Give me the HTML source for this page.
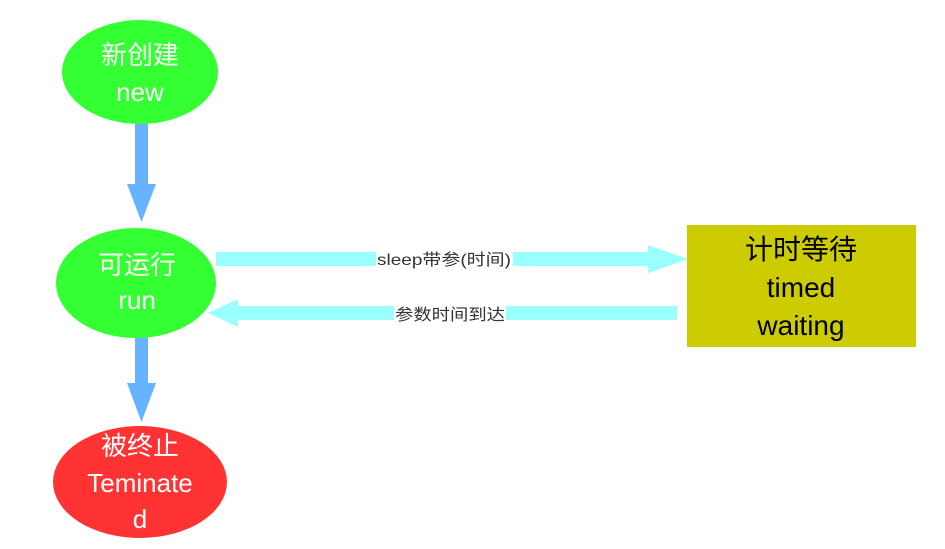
<!DOCTYPE html>
<html><head><meta charset="utf-8"><style>
html,body{margin:0;padding:0;background:#fff;}
svg{display:block}
text{font-family:"Liberation Sans","Noto Sans CJK SC",sans-serif;}
</style></head><body>
<svg width="945" height="549" viewBox="0 0 945 549" xmlns="http://www.w3.org/2000/svg">
<rect x="135" y="118" width="13" height="67" fill="#66b3ff"/>
<polygon points="127,184 156,184 141.5,222" fill="#66b3ff"/>
<rect x="135" y="330" width="13" height="54" fill="#66b3ff"/>
<polygon points="127,383 156,383 141.5,422" fill="#66b3ff"/>
<rect x="216" y="252" width="434" height="14" fill="#99ffff"/>
<polygon points="648,245 648,273 688,259" fill="#99ffff"/>
<rect x="236" y="306" width="441" height="14" fill="#99ffff"/>
<polygon points="238,299 238,327 208,313" fill="#99ffff"/>
<rect x="376" y="251" width="137" height="16" fill="#fff"/>
<text x="377" y="265" font-size="16" fill="#333" textLength="134" lengthAdjust="spacingAndGlyphs">sleep带参(时间)</text>
<rect x="394" y="305" width="112" height="16" fill="#fff"/>
<text x="395" y="320" font-size="16" fill="#333" textLength="110" lengthAdjust="spacingAndGlyphs">参数时间到达</text>
<ellipse cx="140" cy="72" rx="78" ry="52" fill="#33ff33"/>
<text x="140" y="64" font-size="26" fill="#fff" text-anchor="middle">新创建</text>
<text x="140" y="101" font-size="26" fill="#fff" text-anchor="middle">new</text>
<ellipse cx="136" cy="283" rx="80" ry="55" fill="#33ff33"/>
<text x="137" y="274" font-size="26" fill="#fff" text-anchor="middle">可运行</text>
<text x="137" y="309" font-size="26" fill="#fff" text-anchor="middle">run</text>
<ellipse cx="140" cy="482" rx="87" ry="56" fill="#ff3333"/>
<text x="140" y="455" font-size="26" fill="#fff" text-anchor="middle">被终止</text>
<text x="140" y="492" font-size="26" fill="#fff" text-anchor="middle">Teminate</text>
<text x="140" y="528" font-size="26" fill="#fff" text-anchor="middle">d</text>
<rect x="687" y="225" width="229" height="122" fill="#cccc00"/>
<text x="801" y="259" font-size="28" fill="#000" text-anchor="middle">计时等待</text>
<text x="801" y="297" font-size="28" fill="#000" text-anchor="middle">timed</text>
<text x="801" y="335" font-size="28" fill="#000" text-anchor="middle">waiting</text>
</svg>
</body></html>
